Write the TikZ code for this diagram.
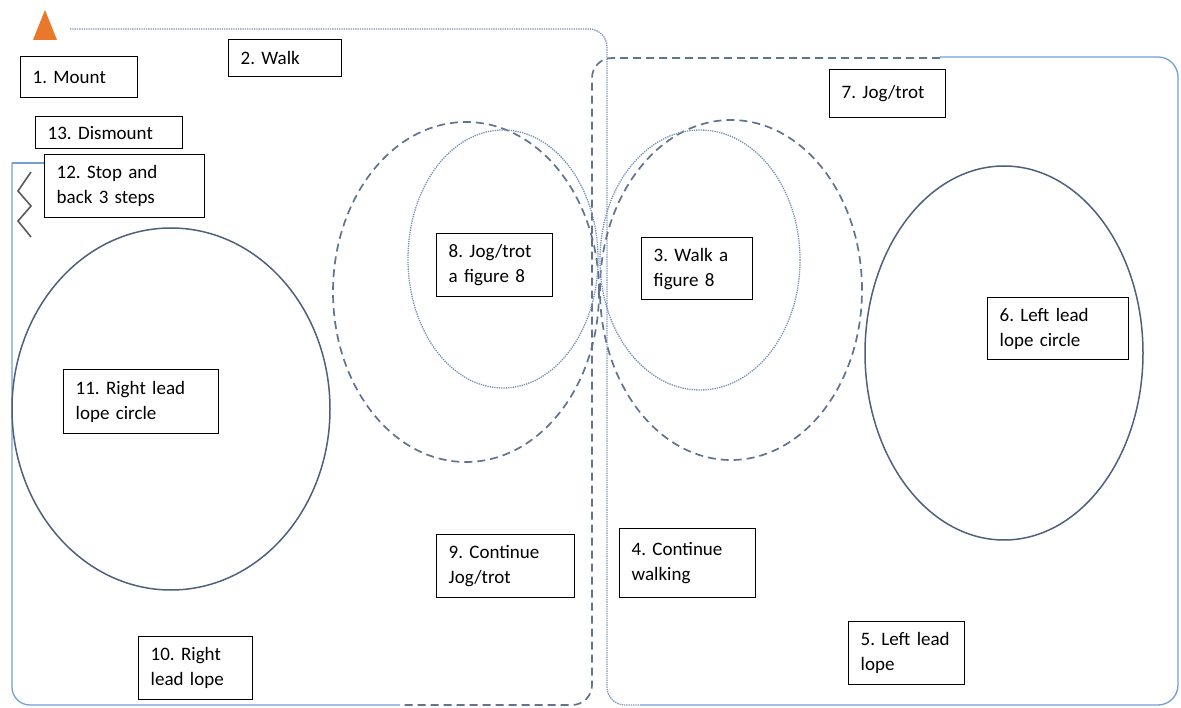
\documentclass[tikz,border=0pt]{standalone}
\usepackage{fontspec}
\setmainfont{Carlito}
\usetikzlibrary{calc}

\definecolor{lopeblue}{HTML}{72A0D6}
\definecolor{jogslate}{HTML}{61738E}
\definecolor{ringslate}{HTML}{4F607C}
\definecolor{walkslate}{HTML}{7891B5}
\definecolor{mountorange}{HTML}{E8782C}
\definecolor{backgrey}{HTML}{5A5A5A}

\begin{document}
\frenchspacing
\begin{tikzpicture}[x=1pt, y=-1pt,
  stage/.style={draw=black, line width=1.4pt, fill=white, anchor=north west, align=left,
    inner xsep=12pt, inner ysep=0pt, font=\fontsize{19}{25}\selectfont},
  walkline/.style={walkslate, line width=1.3pt, densely dotted},
  jogline/.style={jogslate, line width=1.7pt, dash pattern=on 8pt off 5pt},
  lopeline/.style={lopeblue, line width=1.3pt}]
\useasboundingbox (0,0) rectangle (1181,708);

% arena paths
\fill[mountorange] (33,40) -- (45,10) -- (57,40) -- cycle;
\draw[walkline, rounded corners=18pt] (70,29) -- (607,29) -- (607,705) -- (640,705);
\draw[lopeline, rounded corners=20pt] (640,705) -- (1178,705) -- (1178,57) -- (940,57);
\draw[jogline, rounded corners=20pt] (940,58) -- (592,58) -- (592,705) -- (400,705);
\draw[lopeline, rounded corners=18pt] (400,705) -- (12,705) -- (12,163);
\draw[lopeline] (12,163) -- (44,163);
\draw[backgrey, line width=1.6pt] (31,172) -- (18,191) -- (31,206) -- (18,221) -- (31,237);

% lope circles
\draw[ringslate, line width=1.5pt] (171,409) ellipse [x radius=159pt, y radius=181pt];
\draw[ringslate, line width=1.5pt] (1004,353) ellipse [x radius=139pt, y radius=187pt];

% figure eights
\draw[jogline] (466,292) ellipse [x radius=133pt, y radius=170pt];
\draw[jogline] (731,290) ellipse [x radius=131pt, y radius=170pt];
\draw[walkline] (503,259) ellipse [x radius=95pt, y radius=129pt];
\draw[walkline] (700,260) ellipse [x radius=100pt, y radius=130pt];

% stages
\node[stage, text width=93pt, minimum height=41pt] (mount) at (20,56) {1. Mount};
\node[stage, text width=89pt, minimum height=37pt] (walk) at (228,39) {2. Walk};
\node[stage, text width=87pt, minimum height=62pt] (walkeight) at (641,237) {3. Walk a\\figure 8};
\node[stage, text width=112pt, minimum height=69pt] (walkon) at (619,528) {4. Continue\\walking};
\node[stage, text width=92pt, minimum height=63pt] (leftlope) at (848,621) {5. Left lead\\lope};
\node[stage, text width=117pt, minimum height=62pt] (leftcircle) at (987,297) {6. Left lead\\lope circle};
\node[stage, text width=92pt, minimum height=48pt] (jog) at (829,69) {7. Jog/trot};
\node[stage, text width=92pt, minimum height=63pt] (jogeight) at (436,233) {8. Jog/trot\\a figure 8};
\node[stage, text width=114pt, minimum height=63pt] (jogon) at (436,534) {9. Continue\\Jog/trot};
\node[stage, text width=90pt, minimum height=63pt] (rightlope) at (138,636) {10. Right\\lead lope};
\node[stage, text width=131pt, minimum height=64pt] (rightcircle) at (63,369) {11. Right lead\\lope circle};
\node[stage, text width=136pt, minimum height=63pt] (stop) at (44,154) {12. Stop and\\back 3 steps};
\node[stage, text width=123pt, minimum height=32pt] (dismount) at (35,116) {13. Dismount};
\end{tikzpicture}
\end{document}
